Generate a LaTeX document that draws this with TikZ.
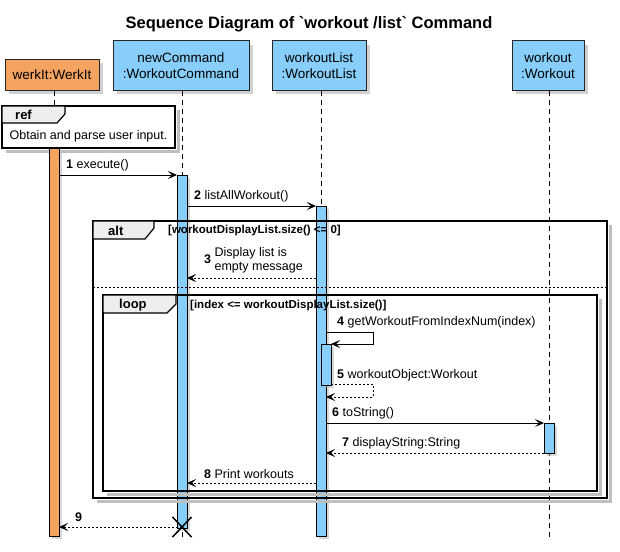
\documentclass[tikz,border=0pt]{standalone}
\usepackage{fontspec}
\setmainfont{Liberation Sans}
\usepackage{xcolor}
\usetikzlibrary{arrows.meta,shadows}

\definecolor{werkorange}{RGB}{244,164,96}
\definecolor{cmdblue}{RGB}{135,206,250}
\definecolor{tabgrey}{RGB}{238,238,238}

\tikzset{
  participant/.style={draw=black!85, line width=1pt, align=center, inner sep=0pt,
    font=\fontsize{13.5}{15.5}\selectfont,
    drop shadow={shadow xshift=4pt, shadow yshift=-4pt, fill=black!30, opacity=0.6}},
  lifeline/.style={dash pattern=on 5pt off 4pt, line width=0.8pt},
  activation/.style={draw=black, line width=0.8pt, fill=cmdblue, inner sep=0pt,
    minimum width=10pt,
    drop shadow={shadow xshift=2.5pt, shadow yshift=-2.5pt, fill=black!30, opacity=0.5}},
  call/.style={-{Stealth[length=9pt, width=8pt, inset=4pt]}, line width=0.8pt},
  reply/.style={call, dash pattern=on 2pt off 2pt},
  msg/.style={font=\fontsize{12.5}{14.5}\selectfont, anchor=west, inner sep=0pt},
  guard/.style={font=\bfseries\fontsize{11.5}{13}\selectfont, anchor=west, inner sep=0pt},
  tablabel/.style={font=\bfseries\fontsize{13}{15}\selectfont, anchor=west, inner sep=0pt},
  frameline/.style={line width=1.5pt},
  frameshadow/.style={line width=3pt, black!25},
  tabbox/.style={fill=tabgrey, line width=1.2pt},
}

\begin{document}
\begin{tikzpicture}[x=1pt, y=-1pt]

    \useasboundingbox (0,0) rectangle (620,551);

    % Lifeline positions
    \def\xWerk{54}
    \def\xCmd{182}
    \def\xList{321}
    \def\xWork{549}

    % Title
    \node[font=\bfseries\fontsize{16.5}{19}\selectfont] (title) at (309,24)
        {Sequence Diagram of \textasciigrave workout /list\textasciigrave\ Command};

    % Participants
    \node[participant, fill=werkorange, minimum width=94pt, minimum height=31pt] (werkIt) at (52,74.5) {werkIt:WerkIt};
    \node[participant, fill=cmdblue, minimum width=136pt, minimum height=49pt] (newCommand) at (181,65.5) {newCommand\\:WorkoutCommand};
    \node[participant, fill=cmdblue, minimum width=94pt, minimum height=49pt] (workoutList) at (319,65.5) {workoutList\\:WorkoutList};
    \node[participant, fill=cmdblue, minimum width=72pt, minimum height=49pt] (workout) at (548,65.5) {workout\\:Workout};

    % Lifelines
    \coordinate (werkEnd) at (\xWerk,540);
    \coordinate (cmdEnd) at (\xCmd,540);
    \coordinate (listEnd) at (\xList,540);
    \coordinate (workEnd) at (\xWork,540);
    \draw[lifeline] (werkIt.south -| werkEnd) -- (werkEnd);
    \draw[lifeline] (newCommand.south -| cmdEnd) -- (cmdEnd);
    \draw[lifeline] (workoutList.south -| listEnd) -- (listEnd);
    \draw[lifeline] (workout.south -| workEnd) -- (workEnd);

    % ref frame
    \draw[frameshadow] (178,110) -- (178,151) -- (6,151);
    \draw[frameline, fill=white] (2,106) rectangle (175,148);
    \draw[tabbox] (2,106) -- (65,106) -- (65,114) -- (57,123) -- (2,123) -- cycle;
    \node[tablabel] (refTab) at (15,115) {ref};
    \node[msg, anchor=center] (refText) at (88.5,136) {Obtain and parse user input.};

    % Activation bars
    \node[activation, fill=werkorange, minimum height=388pt] (actWerk) at (\xWerk,342) {};
    \node[activation, minimum height=353pt] (actCmd) at (\xCmd,351.5) {};
    \node[activation, minimum height=330pt] (actList) at (\xList,371) {};

    % alt frame
    \draw[frameshadow] (610.5,225) -- (610.5,501.5) -- (97,501.5);
    \draw[frameline] (93,221) rectangle (607,498);
    \draw[tabbox] (93,221) -- (154,221) -- (154,228) -- (145,239) -- (93,239) -- cycle;
    \node[tablabel] (altTab) at (108,230.5) {alt};
    \draw[dash pattern=on 2pt off 2pt, line width=0.8pt] (93,287) -- (607,287);

    % loop frame
    \draw[frameshadow] (600.5,299) -- (600.5,494.5) -- (107,494.5);
    \draw[frameline] (103,295) rectangle (597,491);
    \draw[tabbox] (103,295) -- (176,295) -- (176,304) -- (167,313) -- (103,313) -- cycle;
    \node[tablabel] (loopTab) at (119,305) {loop};

    % nested and workout activations
    \node[activation, minimum height=41pt] (actNested) at (326,364.5) {};
    \node[activation, minimum height=30pt] (actWork) at (\xWork,438) {};

    % Guards
    \node[guard] (altGuard) at (168,230.5) {[workoutDisplayList.size() <= 0]};
    \node[guard] (loopGuard) at (190,305.5) {[index <= workoutDisplayList.size()]};

    % 1 execute()
    \coordinate (m1a) at (59,175);  \coordinate (m1b) at (177,175);
    \draw[call] (m1a) -- (m1b);
    \node[msg] (m1) at (66,165.5) {\textbf{1} execute()};

    % 2 listAllWorkout()
    \coordinate (m2a) at (187,206);  \coordinate (m2b) at (316,206);
    \draw[call] (m2a) -- (m2b);
    \node[msg] (m2) at (194,196.5) {\textbf{2} listAllWorkout()};

    % 3 empty message
    \coordinate (m3a) at (316,278);  \coordinate (m3b) at (187,278);
    \draw[reply] (m3a) -- (m3b);
    \node[msg] (m3) at (204,260.5) {\textbf{3} \begin{tabular}[c]{@{}l@{}}Display list is\\empty message\end{tabular}};

    % 4 self call
    \coordinate (m4a) at (326,332);  \coordinate (m4b) at (331,344);
    \draw[call] (m4a) -- (373,332) -- (373,344) -- (m4b);
    \node[msg] (m4) at (337,322) {\textbf{4} getWorkoutFromIndexNum(index)};

    % 5 self return
    \coordinate (m5a) at (331,384);  \coordinate (m5b) at (326,397);
    \draw[reply] (m5a) -- (373,384) -- (373,397) -- (m5b);
    \node[msg] (m5) at (337,375.5) {\textbf{5} workoutObject:Workout};

    % 6 toString()
    \coordinate (m6a) at (326,423);  \coordinate (m6b) at (544,423);
    \draw[call] (m6a) -- (m6b);
    \node[msg] (m6) at (332,413) {\textbf{6} toString()};

    % 7 displayString
    \coordinate (m7a) at (544,453);  \coordinate (m7b) at (326,453);
    \draw[reply] (m7a) -- (m7b);
    \node[msg] (m7) at (342,443) {\textbf{7} displayString:String};

    % 8 Print workouts
    \coordinate (m8a) at (316,483);  \coordinate (m8b) at (187,483);
    \draw[reply] (m8a) -- (m8b);
    \node[msg] (m8) at (204,474) {\textbf{8} Print workouts};

    % 9 return and destroy
    \coordinate (m9a) at (\xCmd,527);  \coordinate (m9b) at (59,527);
    \draw[reply] (m9a) -- (m9b);
    \node[msg] (m9) at (75,517.5) {\textbf{9}};
    \draw[line width=1.5pt] (172.5,517) -- (191.5,537) (172.5,537) -- (191.5,517);

\end{tikzpicture}
\end{document}
